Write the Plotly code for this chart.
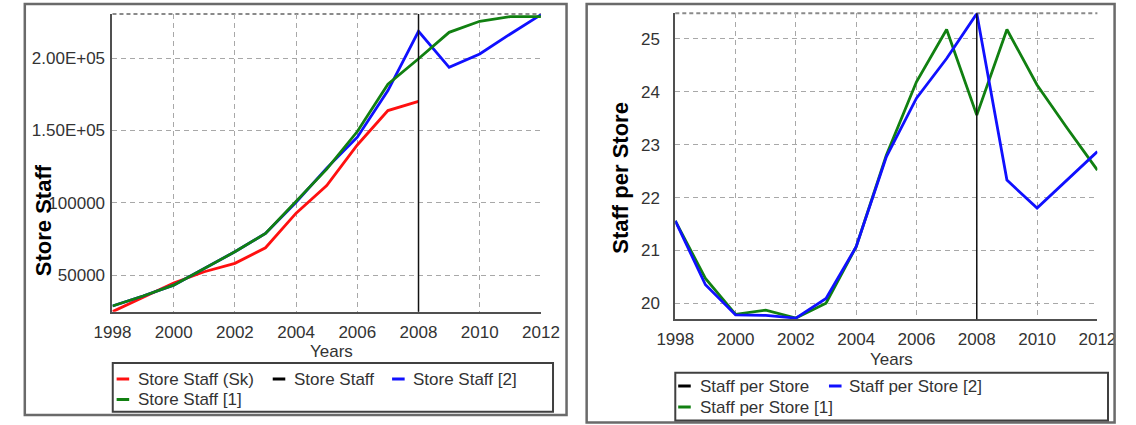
import plotly.graph_objects as go

W, H = 1136, 425

# ---------------- data ----------------
years = list(range(1998, 2013))

store_staff_sk = [24630, 34800, 44470, 52280, 58090, 68870, 92800, 111950, 140000, 163800, 170200,
                  None, None, None, None]
store_staff_2 = [28600, 35500, 43000, 54600, 66100, 78830, 100400, 124000, 145350, 177600, 218600,
                 193740, 203000, 216800, 230120]
store_staff_1 = [28600, 35500, 43000, 54600, 66100, 78830, 100800, 123300, 149300, 182050, 199630,
                 217930, 225570, 228800, 228800]

spst_2 = [21.56, 20.35, 19.78, 19.77, 19.72, 20.09, 21.07, 22.77, 23.88, 24.63, 25.48,
          22.33, 21.80, 22.33, 22.87]
spst_1 = [21.56, 20.47, 19.79, 19.87, 19.72, 20.00, 21.07, 22.80, 24.19, 25.18, 23.56,
          25.18, 24.13, 23.31, 22.52]

left_ytick_vals = [50000, 100000, 150000, 200000]
left_ytick_text = ["50000", "100000", "1.50E+05", "2.00E+05"]
right_ytick_vals = [20, 21, 22, 23, 24, 25]
xtick_vals = [1998, 2000, 2002, 2004, 2006, 2008, 2010, 2012]
marker_year = 2008

left_legend = ["Store Staff (Sk)", "Store Staff", "Store Staff [2]", "Store Staff [1]"]
right_legend = ["Staff per Store", "Staff per Store [2]", "Staff per Store [1]"]

RED = "#ff1010"
BLUE = "#1010ff"
GREEN = "#118011"
BLACK = "#000000"
FONT = "Liberation Sans, Arial, sans-serif"
TICKC = "#333333"
GRIDC = "#a8a8a8"


def px(x):
    return x / W


def py(y):
    return 1 - y / H


fig = go.Figure()

# left panel traces
fig.add_trace(go.Scatter(x=years, y=store_staff_sk, mode="lines", line=dict(color=RED, width=2.8),
                         name=left_legend[0], showlegend=False, xaxis="x", yaxis="y"))
fig.add_trace(go.Scatter(x=years, y=store_staff_2, mode="lines", line=dict(color=BLUE, width=2.8),
                         name=left_legend[2], showlegend=False, xaxis="x", yaxis="y"))
fig.add_trace(go.Scatter(x=years, y=store_staff_1, mode="lines", line=dict(color=GREEN, width=2.8),
                         name=left_legend[3], showlegend=False, xaxis="x", yaxis="y"))

# right panel traces
fig.add_trace(go.Scatter(x=years, y=spst_1, mode="lines", line=dict(color=GREEN, width=2.8),
                         name=right_legend[2], showlegend=False, xaxis="x2", yaxis="y2"))
fig.add_trace(go.Scatter(x=years, y=spst_2, mode="lines", line=dict(color=BLUE, width=2.8),
                         name=right_legend[1], showlegend=False, xaxis="x2", yaxis="y2"))

axis_common = dict(
    showgrid=True, gridcolor=GRIDC, gridwidth=1.2, griddash="5px,4px",
    showline=True, linecolor="#505050", linewidth=2, zeroline=False,
    ticks="", tickfont=dict(family=FONT, size=17, color=TICKC),
    fixedrange=True,
)

fig.update_layout(
    width=W, height=H, autosize=False,
    margin=dict(l=0, r=0, t=0, b=0),
    paper_bgcolor="white", plot_bgcolor="white",
    showlegend=False,
    xaxis=dict(domain=[px(96.7), px(540)], range=[1998, 2012], tickvals=xtick_vals,
               anchor="y", ticklabelstandoff=4, **axis_common),
    yaxis=dict(domain=[py(311.7), py(14)], range=[24630, 230620], tickvals=left_ytick_vals,
               ticktext=left_ytick_text, anchor="x", ticklabelstandoff=2, **axis_common),
    xaxis2=dict(domain=[px(679), px(1115.7)], range=[1998, 2012], tickvals=xtick_vals,
                anchor="y2", ticklabelstandoff=3, **axis_common),
    yaxis2=dict(domain=[py(319.3), py(13.3)], range=[19.697, 25.486], tickvals=right_ytick_vals,
                anchor="x2", ticklabelstandoff=10, **axis_common),
)

shapes = []
# dotted top border lines of the plot areas and the 2008 marker line
for xr, yr in (("x", "y"), ("x2", "y2")):
    shapes.append(dict(type="line", xref=f"{xr} domain", yref=f"{yr} domain", x0=0, x1=1, y0=1, y1=1,
                       line=dict(color="#8a8a8a", width=2, dash="4px,3px"), layer="below"))
    shapes.append(dict(type="line", xref=xr, yref=f"{yr} domain", x0=marker_year, x1=marker_year,
                       y0=0, y1=1, line=dict(color="#111111", width=1.5)))

# panel borders
shapes.append(dict(type="rect", xref="paper", yref="paper", x0=px(6), x1=px(566.5), y0=py(415), y1=py(4),
                   line=dict(color="#6a6a6a", width=2.5)))
shapes.append(dict(type="rect", xref="paper", yref="paper", x0=px(587.3), x1=px(1133.5), y0=py(422.5), y1=py(4),
                   line=dict(color="#6a6a6a", width=2.5)))
# legend boxes
shapes.append(dict(type="rect", xref="paper", yref="paper", x0=px(97), x1=px(552.5), y0=py(411.7), y1=py(363),
                   line=dict(color="#404040", width=2)))
shapes.append(dict(type="rect", xref="paper", yref="paper", x0=px(679), x1=px(1126.7), y0=py(420.5), y1=py(372.7),
                   line=dict(color="#404040", width=2)))

annotations = []


def legend_item(x_sw, y, color, text, x_text):
    shapes.append(dict(type="line", xref="paper", yref="paper", x0=px(x_sw), x1=px(x_sw + 13),
                       y0=py(y), y1=py(y), line=dict(color=color, width=3)))
    annotations.append(dict(xref="paper", yref="paper", x=px(x_text), y=py(y), xanchor="left",
                            yanchor="middle", showarrow=False, text=text,
                            font=dict(family=FONT, size=17, color=TICKC)))


legend_item(101, 379, RED, left_legend[0], 121)
legend_item(262.5, 379, BLACK, left_legend[1], 282.5)
legend_item(386, 379, BLUE, left_legend[2], 406)
legend_item(101, 399.5, GREEN, left_legend[3], 121)

legend_item(682, 386, BLACK, right_legend[0], 703)
legend_item(838, 386, BLUE, right_legend[1], 857)
legend_item(682, 407, GREEN, right_legend[2], 703)

# axis titles
annotations.append(dict(xref="paper", yref="paper", x=px(25), y=py(220), text="<b>Store Staff</b>",
                        textangle=-90, showarrow=False, xanchor="center", yanchor="middle",
                        font=dict(family=FONT, size=22, color="black")))
annotations.append(dict(xref="paper", yref="paper", x=px(621.5), y=py(178), text="<b>Staff per Store</b>",
                        textangle=-90, showarrow=False, xanchor="center", yanchor="middle",
                        font=dict(family=FONT, size=22, color="black")))
annotations.append(dict(xref="paper", yref="paper", x=px(323), y=py(351.5), text="Years",
                        showarrow=False, xanchor="center", yanchor="middle",
                        font=dict(family=FONT, size=17, color=TICKC)))
annotations.append(dict(xref="paper", yref="paper", x=px(903), y=py(359), text="Years",
                        showarrow=False, xanchor="center", yanchor="middle",
                        font=dict(family=FONT, size=17, color=TICKC)))

fig.update_layout(shapes=shapes, annotations=annotations)

fig.write_html(
    "out.html",
    config={"displayModeBar": False},
    post_script="document.body.style.margin='0px';document.body.style.overflow='hidden';"
                "document.documentElement.style.overflow='hidden';",
)
